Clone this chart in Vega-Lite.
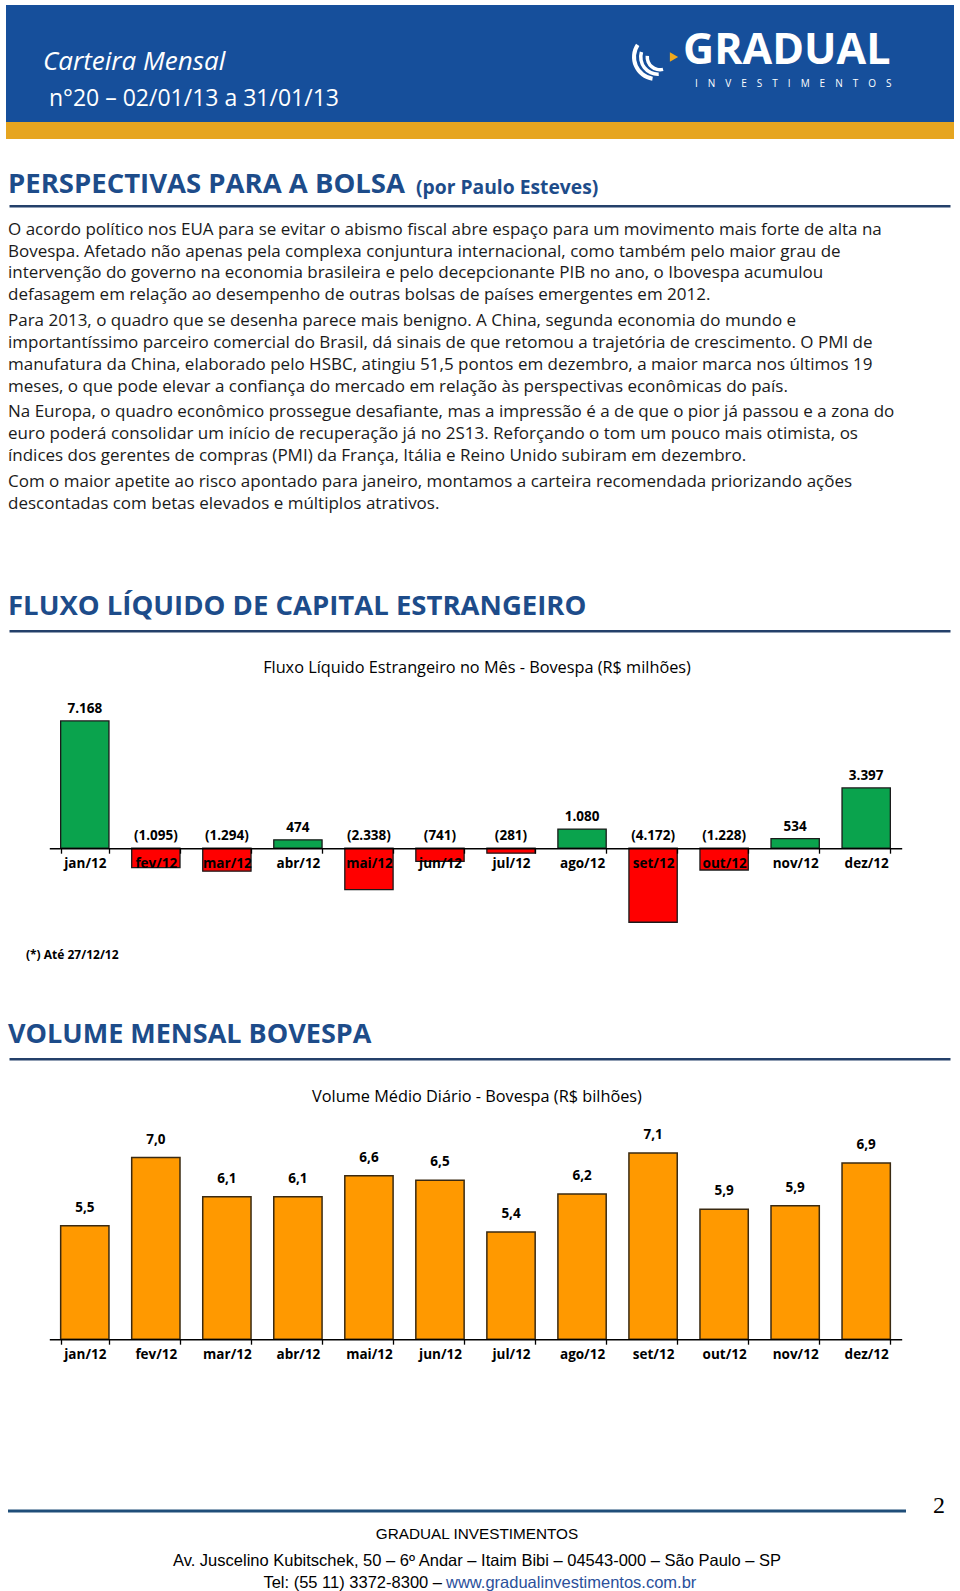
{
  "$schema": "https://vega.github.io/schema/vega-lite/v6.json",
  "padding": {"top": 5, "left": 0, "right": 0, "bottom": 0},
  "background": "#ffffff",
  "bounds": "flush",
  "spacing": 0,
  "center": true,
  "config": {
    "view": {"stroke": null},
    "font": "Open Sans",
    "locale": {"number": {"decimal": ",", "thousands": ".", "grouping": [3], "currency": ["R$", ""]}}
  },
  "vconcat": [
    {
      "width": 948, "height": 117,
      "view": {"fill": "#164f9b"},
      "data": {"values": [{}]},
      "layer": [
        {"mark": {"type": "text", "align": "left", "baseline": "middle", "fontSize": 26, "fontStyle": "italic", "color": "#ffffff", "font": "Open Sans"},
         "encoding": {"x": {"value": 37}, "y": {"value": 57}, "text": {"value": "Carteira Mensal"}}},
        {"mark": {"type": "text", "align": "left", "baseline": "middle", "fontSize": 23, "color": "#ffffff", "font": "Open Sans"},
         "encoding": {"x": {"value": 43}, "y": {"value": 94}, "text": {"value": "n°20 – 02/01/13 a 31/01/13"}}},
        {"mark": {"type": "text", "align": "left", "baseline": "middle", "fontSize": 43, "fontWeight": "bold", "color": "#ffffff", "font": "Open Sans"},
         "encoding": {"x": {"value": 677}, "y": {"value": 46}, "text": {"value": "GRADUAL"}}},
        {"mark": {"type": "text", "align": "left", "baseline": "middle", "fontSize": 10, "color": "#ffffff", "font": "Open Sans"},
         "encoding": {"x": {"value": 689}, "y": {"value": 78.5}, "text": {"value": "I\u2003N\u2003V\u2003E\u2003S\u2003T\u2003I\u2003M\u2003E\u2003N\u2003T\u2003O\u2003S"}}},
        {"mark": {"type": "arc", "radius": 24, "radius2": 20, "theta": 3.3, "theta2": 5.3, "color": "#ffffff"},
         "encoding": {"x": {"value": 650}, "y": {"value": 52}}},
        {"mark": {"type": "arc", "radius": 19, "radius2": 15.5, "theta": 3.1, "theta2": 5.0, "color": "#ffffff"},
         "encoding": {"x": {"value": 652}, "y": {"value": 52}}},
        {"mark": {"type": "arc", "radius": 14.5, "radius2": 11, "theta": 2.9, "theta2": 4.8, "color": "#ffffff"},
         "encoding": {"x": {"value": 654}, "y": {"value": 52}}},
        {"mark": {"type": "point", "shape": "triangle-right", "filled": true, "size": 90, "color": "#f0a81c", "opacity": 1},
         "encoding": {"x": {"value": 668}, "y": {"value": 52}}}
      ]
    },
    {
      "width": 948, "height": 17,
      "view": {"fill": "#e6a520"},
      "data": {"values": [{}]},
      "mark": {"type": "text"},
      "encoding": {"text": {"value": ""}}
    },
    {
      "width": 960, "height": 66,
      "data": {"values": [{}]},
      "layer": [
        {"mark": {"type": "text", "align": "left", "baseline": "middle", "fontSize": 27.5, "fontWeight": "bold", "color": "#1d4c8a", "font": "Open Sans"},
         "encoding": {"x": {"value": 8}, "y": {"value": 45.7}, "text": {"value": "PERSPECTIVAS PARA A BOLSA"}}},
        {"mark": {"type": "text", "align": "left", "baseline": "middle", "fontSize": 19.3, "fontWeight": "bold", "color": "#1d4c8a", "font": "Open Sans"},
         "encoding": {"x": {"value": 416}, "y": {"value": 48.5}, "text": {"value": "(por Paulo Esteves)"}}}
      ]
    },
    {
      "width": 941, "height": 2.5,
      "view": {"fill": "#24406a"},
      "data": {"values": [{}]},
      "mark": {"type": "text"},
      "encoding": {"text": {"value": ""}}
    },
    {
      "width": 960, "height": 352.5,
      "data": {"values": [
        {"par": 1, "line": 0, "t": "O acordo político nos EUA para se evitar o abismo fiscal abre espaço para um movimento mais forte de alta na"},
        {"par": 1, "line": 1, "t": "Bovespa. Afetado não apenas pela complexa conjuntura internacional, como também pelo maior grau de"},
        {"par": 1, "line": 2, "t": "intervenção do governo na economia brasileira e pelo decepcionante PIB no ano, o Ibovespa acumulou"},
        {"par": 1, "line": 3, "t": "defasagem em relação ao desempenho de outras bolsas de países emergentes em 2012."},
        {"par": 2, "line": 4, "t": "Para 2013, o quadro que se desenha parece mais benigno. A China, segunda economia do mundo e"},
        {"par": 2, "line": 5, "t": "importantíssimo parceiro comercial do Brasil, dá sinais de que retomou a trajetória de crescimento. O PMI de"},
        {"par": 2, "line": 6, "t": "manufatura da China, elaborado pelo HSBC, atingiu 51,5 pontos em dezembro, a maior marca nos últimos 19"},
        {"par": 2, "line": 7, "t": "meses, o que pode elevar a confiança do mercado em relação às perspectivas econômicas do país."},
        {"par": 3, "line": 8, "t": "Na Europa, o quadro econômico prossegue desafiante, mas a impressão é a de que o pior já passou e a zona do"},
        {"par": 3, "line": 9, "t": "euro poderá consolidar um início de recuperação já no 2S13. Reforçando o tom um pouco mais otimista, os"},
        {"par": 3, "line": 10, "t": "índices dos gerentes de compras (PMI) da França, Itália e Reino Unido subiram em dezembro."},
        {"par": 4, "line": 11, "t": "Com o maior apetite ao risco apontado para janeiro, montamos a carteira recomendada priorizando ações"},
        {"par": 4, "line": 12, "t": "descontadas com betas elevados e múltiplos atrativos."}
      ]},
      "transform": [{"calculate": "datum.line + 0.19 * (datum.par - 1)", "as": "pos"}],
      "mark": {"type": "text", "align": "left", "baseline": "middle", "fontSize": 17, "color": "#1a1a1a", "font": "Open Sans"},
      "encoding": {
        "x": {"value": 8},
        "y": {"field": "pos", "type": "quantitative", "scale": {"domain": [-1, 15.17], "reverse": true, "nice": false, "zero": false}, "axis": null},
        "text": {"field": "t", "type": "nominal"}
      }
    },
    {
      "width": 960, "height": 69,
      "data": {"values": [{}]},
      "mark": {"type": "text", "align": "left", "baseline": "middle", "fontSize": 27.5, "fontWeight": "bold", "color": "#1d4c8a", "font": "Open Sans"},
      "encoding": {"x": {"value": 8}, "y": {"value": 45.8}, "text": {"value": "FLUXO LÍQUIDO DE CAPITAL ESTRANGEIRO"}}
    },
    {
      "width": 941, "height": 2.5,
      "view": {"fill": "#24406a"},
      "data": {"values": [{}]},
      "mark": {"type": "text"},
      "encoding": {"text": {"value": ""}}
    },
    {
      "width": 960, "height": 343.5,
      "data": {"values": [
        {"m": "jan/12", "v": 7168},
        {"m": "fev/12", "v": -1095},
        {"m": "mar/12", "v": -1294},
        {"m": "abr/12", "v": 474},
        {"m": "mai/12", "v": -2338},
        {"m": "jun/12", "v": -741},
        {"m": "jul/12", "v": -281},
        {"m": "ago/12", "v": 1080},
        {"m": "set/12", "v": -4172},
        {"m": "out/12", "v": -1228},
        {"m": "nov/12", "v": 534},
        {"m": "dez/12", "v": 3397}
      ]},
      "layer": [
        {
          "mark": {"type": "bar", "stroke": "#1a1a1a", "strokeWidth": 1.3},
          "encoding": {
            "x": {"field": "m", "type": "nominal", "sort": null,
                  "scale": {"range": [49.3, 901.7], "paddingInner": 0.32, "paddingOuter": 0.16},
                  "axis": {"title": null, "orient": "bottom", "offset": -128.3, "domainColor": "#000000", "domainWidth": 1.5,
                           "tickColor": "#000000", "tickSize": 5, "tickWidth": 1.3, "tickBand": "extent", "labelAngle": 0,
                           "labelFontWeight": "bold", "labelFontSize": 13.5, "labelColor": "#000000", "labelPadding": 3,
                           "labelFont": "Open Sans", "zindex": 1, "grid": false}},
            "y": {"field": "v", "type": "quantitative", "scale": {"domain": [-7228, 12124], "nice": false, "zero": false}, "axis": null},
            "fill": {"condition": {"test": "datum.v < 0", "value": "#ff0000"}, "value": "#0aa34d"}
          }
        },
        {
          "transform": [{"calculate": "max(datum.v, 0)", "as": "lab"}],
          "mark": {"type": "text", "dy": -12, "fontWeight": "bold", "fontSize": 13.5, "baseline": "middle", "color": "#000000", "font": "Open Sans"},
          "encoding": {
            "x": {"field": "m", "type": "nominal", "sort": null},
            "y": {"field": "lab", "type": "quantitative"},
            "text": {"field": "v", "type": "quantitative", "format": "(,.0f"}
          }
        },
        {
          "data": {"values": [{}]},
          "mark": {"type": "text", "align": "center", "baseline": "middle", "fontSize": 16.3, "color": "#000000", "font": "Open Sans"},
          "encoding": {"x": {"value": 477}, "y": {"value": 35.2}, "text": {"value": "Fluxo Líquido Estrangeiro no Mês - Bovespa (R$ milhões)"}}
        },
        {
          "data": {"values": [{}]},
          "mark": {"type": "text", "align": "left", "baseline": "middle", "fontSize": 12, "fontWeight": "bold", "color": "#000000", "font": "Open Sans"},
          "encoding": {"x": {"value": 26}, "y": {"value": 321.5}, "text": {"value": "(*) Até 27/12/12"}}
        }
      ]
    },
    {
      "width": 960, "height": 81,
      "data": {"values": [{}]},
      "mark": {"type": "text", "align": "left", "baseline": "middle", "fontSize": 27, "fontWeight": "bold", "color": "#1d4c8a", "font": "Open Sans"},
      "encoding": {"x": {"value": 8}, "y": {"value": 58}, "text": {"value": "VOLUME MENSAL BOVESPA"}}
    },
    {
      "width": 941, "height": 2.5,
      "view": {"fill": "#24406a"},
      "data": {"values": [{}]},
      "mark": {"type": "text"},
      "encoding": {"text": {"value": ""}}
    },
    {
      "width": 960, "height": 278.2,
      "data": {"values": [
        {"m": "jan/12", "v": 5.5},
        {"m": "fev/12", "v": 7.0},
        {"m": "mar/12", "v": 6.14},
        {"m": "abr/12", "v": 6.14},
        {"m": "mai/12", "v": 6.6},
        {"m": "jun/12", "v": 6.5},
        {"m": "jul/12", "v": 5.36},
        {"m": "ago/12", "v": 6.2},
        {"m": "set/12", "v": 7.1},
        {"m": "out/12", "v": 5.86},
        {"m": "nov/12", "v": 5.94},
        {"m": "dez/12", "v": 6.88}
      ]},
      "layer": [
        {
          "mark": {"type": "bar", "stroke": "#3a2a12", "strokeWidth": 1.5, "fill": "#ff9900"},
          "encoding": {
            "x": {"field": "m", "type": "nominal", "sort": null,
                  "scale": {"range": [49.3, 901.7], "paddingInner": 0.32, "paddingOuter": 0.16},
                  "axis": {"title": null, "orient": "bottom", "domainColor": "#000000", "domainWidth": 1.5,
                           "tickColor": "#000000", "tickSize": 5, "tickWidth": 1.3, "tickBand": "extent", "labelAngle": 0,
                           "labelFontWeight": "bold", "labelFontSize": 13.5, "labelColor": "#000000", "labelPadding": 3,
                           "labelFont": "Open Sans", "zindex": 1, "grid": false}},
            "y": {"field": "v", "type": "quantitative", "scale": {"domain": [3, 9.128], "zero": false, "nice": false}, "axis": null},
            "y2": {"datum": 3}
          }
        },
        {
          "mark": {"type": "text", "dy": -18, "fontWeight": "bold", "fontSize": 13.5, "baseline": "middle", "color": "#000000", "font": "Open Sans"},
          "encoding": {
            "x": {"field": "m", "type": "nominal", "sort": null},
            "y": {"field": "v", "type": "quantitative"},
            "text": {"field": "v", "type": "quantitative", "format": ".1f"}
          }
        },
        {
          "data": {"values": [{}]},
          "mark": {"type": "text", "align": "center", "baseline": "middle", "fontSize": 16.3, "color": "#000000", "font": "Open Sans"},
          "encoding": {"x": {"value": 477}, "y": {"value": 35.5}, "text": {"value": "Volume Médio Diário - Bovespa (R$ bilhões)"}}
        }
      ]
    },
    {
      "width": 960, "height": 254.3,
      "data": {"values": [{}]},
      "layer": [
        {"mark": {"type": "rule", "color": "#1f4e79", "strokeWidth": 3},
         "encoding": {"x": {"value": 8}, "x2": {"value": 906}, "y": {"value": 171}}},
        {"mark": {"type": "text", "align": "center", "baseline": "middle", "fontSize": 24, "color": "#000000", "font": "Liberation Serif"},
         "encoding": {"x": {"value": 939}, "y": {"value": 166}, "text": {"value": "2"}}},
        {"mark": {"type": "text", "align": "center", "baseline": "middle", "fontSize": 15.3, "color": "#000000", "font": "Liberation Sans"},
         "encoding": {"x": {"value": 477}, "y": {"value": 194.3}, "text": {"value": "GRADUAL INVESTIMENTOS"}}},
        {"mark": {"type": "text", "align": "center", "baseline": "middle", "fontSize": 16.5, "color": "#000000", "font": "Liberation Sans"},
         "encoding": {"x": {"value": 477}, "y": {"value": 221.3}, "text": {"value": "Av. Juscelino Kubitschek, 50 – 6º Andar – Itaim Bibi – 04543-000 – São Paulo – SP"}}},
        {"mark": {"type": "text", "align": "right", "baseline": "middle", "fontSize": 16.5, "color": "#000000", "font": "Liberation Sans"},
         "encoding": {"x": {"value": 442}, "y": {"value": 243.3}, "text": {"value": "Tel: (55 11) 3372-8300 –"}}},
        {"mark": {"type": "text", "align": "left", "baseline": "middle", "fontSize": 16.5, "color": "#2a4f9a", "font": "Liberation Sans"},
         "encoding": {"x": {"value": 446}, "y": {"value": 243.3}, "text": {"value": "www.gradualinvestimentos.com.br"}}},
        {"mark": {"type": "rule", "color": "#2a4f9a", "strokeWidth": 1},
         "encoding": {"x": {"value": 446}, "x2": {"value": 694}, "y": {"value": 252}}}
      ]
    }
  ]
}
